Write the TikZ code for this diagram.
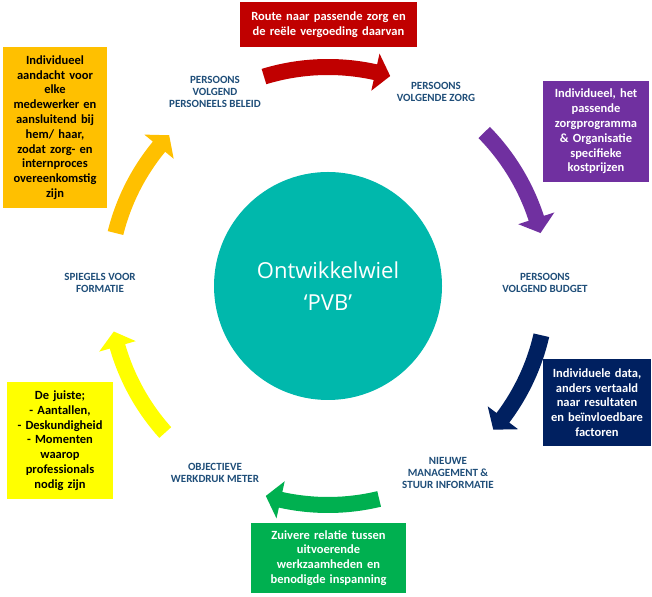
\documentclass[tikz,border=0pt]{standalone}
\usepackage{fontspec}
\setmainfont{Carlito}
\newfontfamily\circfont{Open Sans}
\definecolor{orangeC}{HTML}{FFC000}
\definecolor{redC}{HTML}{C00000}
\definecolor{purpleC}{HTML}{7030A0}
\definecolor{navyC}{HTML}{002060}
\definecolor{yellowC}{HTML}{FFFF00}
\definecolor{greenC}{HTML}{00B050}
\definecolor{tealC}{RGB}{0,184,172}
\definecolor{lblblue}{HTML}{1F4E79}
\newcommand{\wheelarrow}[4]{%
  \fill[#1] (#2:227pt) arc[start angle=#2, end angle=#3, radius=227pt]
    -- (#3:238pt) -- (#4:219pt) -- (#3:200pt) -- (#3:211pt)
    arc[start angle=#3, end angle=#2, radius=211pt] -- cycle;}
\tikzset{
  infobox/.style={inner sep=0pt, align=center, font=\bfseries\fontsize{12.5}{14.8}\selectfont},
  lbl/.style={inner sep=0pt, align=center, text=lblblue, font=\bfseries\fontsize{11}{12.2}\selectfont}
}
\begin{document}
\begin{tikzpicture}[x=1pt,y=1pt]
\fill[white] (0,0) rectangle (652,596);
\path[use as bounding box] (0,0) rectangle (652,596);
% wheel
\node[circle, fill=tealC, minimum size=228pt, inner sep=0pt, text=white, align=center,
  font=\circfont\fontsize{22}{32}\selectfont] (wheel) at (328,310) {Ontwikkelwiel\\‘PVB’};
% curved arrows
\begin{scope}[shift={(wheel.center)}]
  \wheelarrow{redC}{107}{77.5}{73.5}
  \wheelarrow{purpleC}{44.5}{18}{14}
  \wheelarrow{navyC}{-13}{-37}{-41}
  \wheelarrow{greenC}{-76.5}{-102.5}{-106.5}
  \wheelarrow{yellowC}{-138}{-164}{-168}
  \wheelarrow{orangeC}{166}{140.5}{136.5}
\end{scope}
% boxes
\node[infobox, fill=orangeC, minimum width=104pt, minimum height=161pt, text width=102pt] (obox) at (55,468.5)
  {Individueel\\aandacht voor\\elke\\medewerker en\\aansluitend bij\\hem/ haar,\\zodat zorg- en\\internproces\\overeenkomstig\\zijn};
\node[infobox, fill=redC, text=white, minimum width=177pt, minimum height=45pt, text width=175pt] (rbox) at (328.5,571.5)
  {Route naar passende zorg en\\de reële vergoeding daarvan};
\node[infobox, fill=purpleC, text=white, minimum width=106pt, minimum height=101pt, text width=104pt] (pbox) at (596,464.5)
  {Individueel, het\\passende\\zorgprogramma\\\& Organisatie\\specifieke\\kostprijzen};
\node[infobox, fill=navyC, text=white, minimum width=108pt, minimum height=87pt, text width=106pt] (nbox) at (597,193.5)
  {Individuele data,\\anders vertaald\\naar resultaten\\en beïnvloedbare\\factoren};
\node[infobox, fill=yellowC, minimum width=106pt, minimum height=117pt, text width=104pt] (ybox) at (60,155.5)
  {De juiste;\\- Aantallen,\\- Deskundigheid\\- Momenten\\waarop\\professionals\\nodig zijn};
\node[infobox, fill=greenC, text=white, minimum width=155pt, minimum height=70pt, text width=153pt] (gbox) at (328.5,38)
  {Zuivere relatie tussen\\uitvoerende\\werkzaamheden en\\benodigde inspanning};
% labels
\node[lbl] (l1) at (215,504) {PERSOONS\\VOLGEND\\PERSONEELS BELEID};
\node[lbl] (l2) at (436,504) {PERSOONS\\VOLGENDE ZORG};
\node[lbl] (l3) at (545,313) {PERSOONS\\VOLGEND BUDGET};
\node[lbl] (l4) at (448,123) {NIEUWE\\MANAGEMENT \&\\STUUR INFORMATIE};
\node[lbl] (l5) at (215,123) {OBJECTIEVE\\WERKDRUK METER};
\node[lbl] (l6) at (100,313) {SPIEGELS VOOR\\FORMATIE};
\end{tikzpicture}
\end{document}
